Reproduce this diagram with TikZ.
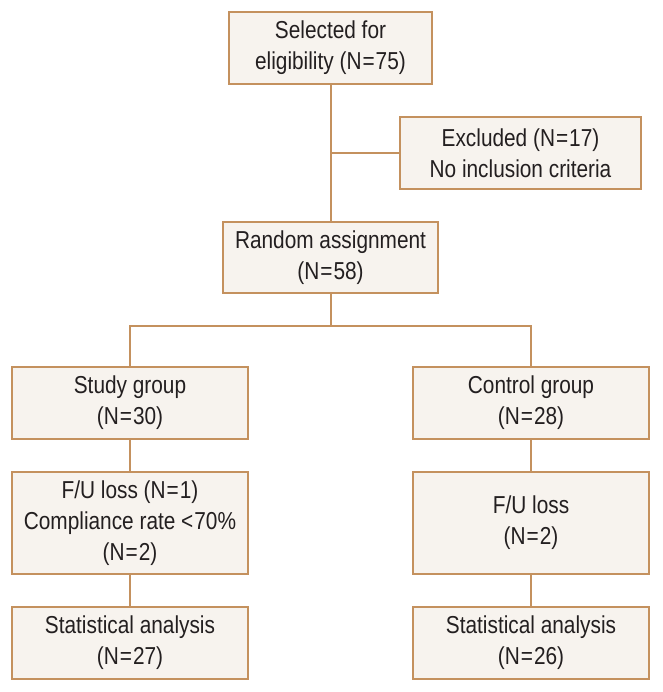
\documentclass[tikz,border=0pt]{standalone}
\usepackage{fontspec}
\setmainfont{Liberation Sans}[FakeStretch=0.85]
\definecolor{boxline}{HTML}{C4915E}
\definecolor{boxfill}{HTML}{F7F3EE}
\definecolor{txt}{HTML}{231F20}
\newcommand{\eqk}{\kern1pt=\kern1pt}
\begin{document}
\begin{tikzpicture}[x=1pt,y=-1pt,
  fbox/.style={draw=boxline,fill=boxfill,line width=1.6pt,rectangle,inner sep=0pt,
    align=center,text=txt,font=\fontsize{24.5}{31.3}\selectfont},
  conn/.style={draw=boxline,line width=1.6pt}]
\useasboundingbox (0,0) rectangle (662,692);
\node[fbox,minimum width=203pt,minimum height=72pt] (sel) at (330.5,48) {Selected for\\eligibility (N\eqk75)};
\node[fbox,minimum width=241pt,minimum height=72pt] (exc) at (520.5,153) {Excluded (N\eqk17)\\No inclusion criteria};
\node[fbox,minimum width=215pt,minimum height=71pt] (rand) at (330.5,257.5) {Random assignment\\(N\eqk58)};
\node[fbox,minimum width=236pt,minimum height=72pt] (study) at (130,403) {Study group\\(N\eqk30)};
\node[fbox,minimum width=236pt,minimum height=72pt] (ctrl) at (531,403) {Control group\\(N\eqk28)};
\node[fbox,minimum width=236pt,minimum height=102pt] (fu1) at (130,523) {F/U loss (N\eqk1)\\Compliance rate <\kern1pt70\%\\(N\eqk2)};
\node[fbox,minimum width=236pt,minimum height=102pt] (fu2) at (531,523) {F/U loss\\(N\eqk2)};
\node[fbox,minimum width=236pt,minimum height=72pt] (st1) at (130,643) {Statistical analysis\\(N\eqk27)};
\node[fbox,minimum width=236pt,minimum height=72pt] (st2) at (531,643) {Statistical analysis\\(N\eqk26)};
\coordinate (br) at (331,153);
\coordinate (sp) at (331,326);
\draw[conn] (sel.south -| br) -- (rand.north -| br);
\draw[conn] (br) -- (exc.west);
\draw[conn] (rand.south -| sp) -- (sp);
\draw[conn] (study.north) |- (sp) -| (ctrl.north);
\draw[conn] (study) -- (fu1);
\draw[conn] (fu1) -- (st1);
\draw[conn] (ctrl) -- (fu2);
\draw[conn] (fu2) -- (st2);
\end{tikzpicture}
\end{document}
